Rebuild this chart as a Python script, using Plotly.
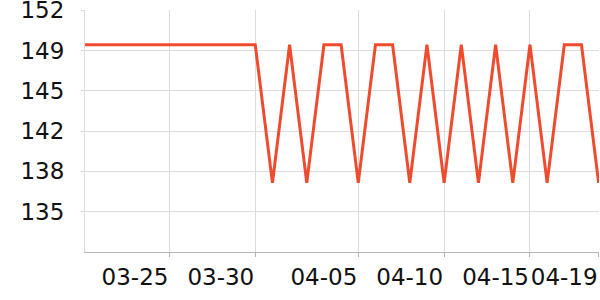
import plotly.graph_objects as go

dates = ["2024-03-%02d" % d for d in range(20, 32)] + ["2024-04-%02d" % d for d in range(1, 20)]
values = [149.5] * 11 + [
    137.5, 149.5, 137.5, 149.5, 149.5, 137.5, 149.5, 149.5, 137.5, 149.5,
    137.5, 149.5, 137.5, 149.5, 137.5, 149.5, 137.5, 149.5, 149.5, 137.5,
]

x_tickvals = ["2024-03-25", "2024-03-30", "2024-04-05", "2024-04-10", "2024-04-15", "2024-04-19"]
x_ticktext = ["03-25", "03-30", "04-05", "04-10", "04-15", "04-19"]
y_tickvals = [135, 138.5, 142, 145.5, 149, 152.5]
y_ticktext = ["135", "138", "142", "145", "149", "152"]

fig = go.Figure(go.Scatter(
    x=dates, y=values, mode="lines",
    line=dict(color="#ef4b2e", width=3),
    hoverinfo="skip",
))

fig.update_layout(
    width=600, height=300,
    margin=dict(l=85, r=1, t=10, b=48),
    paper_bgcolor="white", plot_bgcolor="white",
    font=dict(family="DejaVu Sans", size=23, color="#111"),
    showlegend=False,
)
fig.update_xaxes(
    type="date",
    range=["2024-03-20 02:00", "2024-04-19 00:30"],
    tickmode="array", tickvals=x_tickvals, ticktext=x_ticktext,
    tickangle=0,
    ticklabelposition="outside left",
    ticklabeloverflow="allow",
    automargin=False,
    showgrid=True, gridcolor="#dcdcdc", gridwidth=1,
    showline=True, linecolor="#b5b5b5", linewidth=1,
    ticks="outside", ticklen=4, tickcolor="#b5b5b5",
    ticklabelstandoff=4,
    zeroline=False,
)
fig.update_yaxes(
    range=[131.5, 152.52],
    tickmode="array", tickvals=y_tickvals, ticktext=y_ticktext,
    ticklabeloverflow="allow",
    automargin=False,
    showgrid=True, gridcolor="#dcdcdc", gridwidth=1,
    showline=True, linecolor="#dcdcdc", linewidth=1,
    ticks="outside", ticklen=3, tickcolor="#dcdcdc",
    ticklabelstandoff=12,
    zeroline=False,
)

fig.write_html("out.html")
